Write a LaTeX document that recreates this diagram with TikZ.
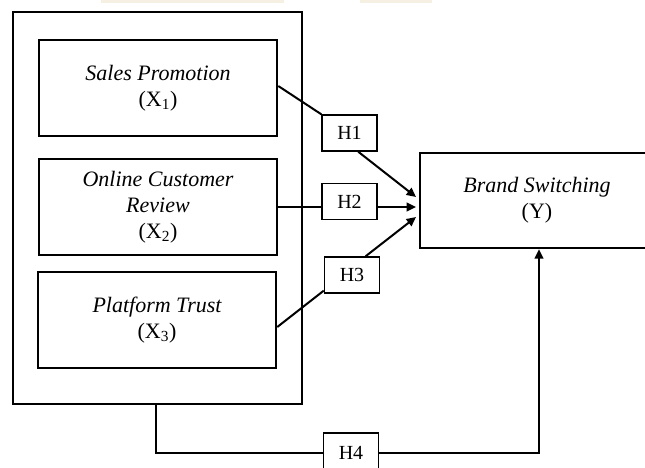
\documentclass[tikz,border=0pt]{standalone}
\usepackage{fontspec}
\setmainfont{Liberation Serif}
\usepackage{tikz}
\usetikzlibrary{arrows.meta,positioning,calc}
\tikzset{
  var/.style={draw, line width=1.9pt, minimum width=178.5pt, minimum height=72pt, inner sep=0pt, align=center, font=\fontsize{16.5}{19.5}\selectfont\itshape},
  hyp/.style={draw, line width=1.1pt, fill=white, minimum width=41.25pt, minimum height=27pt, inner sep=0pt, font=\fontsize{15}{18}\selectfont},
  link/.style={line width=1.5pt},
  arrow/.style={-{Triangle[length=7pt,width=6.5pt]}, line width=1.5pt},
}
\definecolor{hilite}{HTML}{F5F0E2}
\newcommand{\sub}[1]{{\upshape(X\textsubscript{#1})}}

\begin{document}
\begin{tikzpicture}[x=0.75pt, y=-0.75pt]
\path[use as bounding box, clip] (0,0) rectangle (645,467);
\fill[hilite] (101,0) rectangle (284,3);
\fill[hilite] (360,0) rectangle (432,3);

\node[draw, line width=2.2pt, minimum width=216.75pt, minimum height=294pt] (outer) at (157.5,208) {};
\node[var] (sp) at (158,88) {Sales Promotion\\\sub{1}};
\node[var] (ocr) at (158,207) {Online Customer\\Review\\\sub{2}};
\node[var] (pt) at (157,320) {Platform Trust\\\sub{3}};
\node[var, minimum width=175.5pt, minimum height=71.25pt] (bs) at (537,200.5) {Brand Switching\\{\upshape(Y)}};

\node[hyp] (h1) at (349.5,133) {H1};
\node[hyp] (h2) at (349.5,201.5) {H2};
\node[hyp] (h3) at (352,275) {H3};
\node[hyp, minimum height=30pt] (h4) at (351,453) {H4};

\coordinate (t1) at (416,197);
\coordinate (t2) at (416,207);
\coordinate (t3) at (416,217);

% paths to Y
\draw[link] ($(sp.east)+(0,-2)$) -- (h1.north west);
\draw[arrow] (h1.-65) -- (t1);
\draw[link] (ocr.east) -- (ocr.east -| h2.west);
\draw[arrow] (t2 -| h2.east) -- (t2);
\draw[link] ($(pt.east)+(0,7)$) -- (h3.209);
\draw[arrow] (h3.54) -- (t3);

% simultaneous
\draw[link] ($(outer.south)+(-1.5,0)$) |- (h4.west);
\draw[arrow] (h4.east) -| ($(bs.south)+(2,0)$);
\end{tikzpicture}
\end{document}
